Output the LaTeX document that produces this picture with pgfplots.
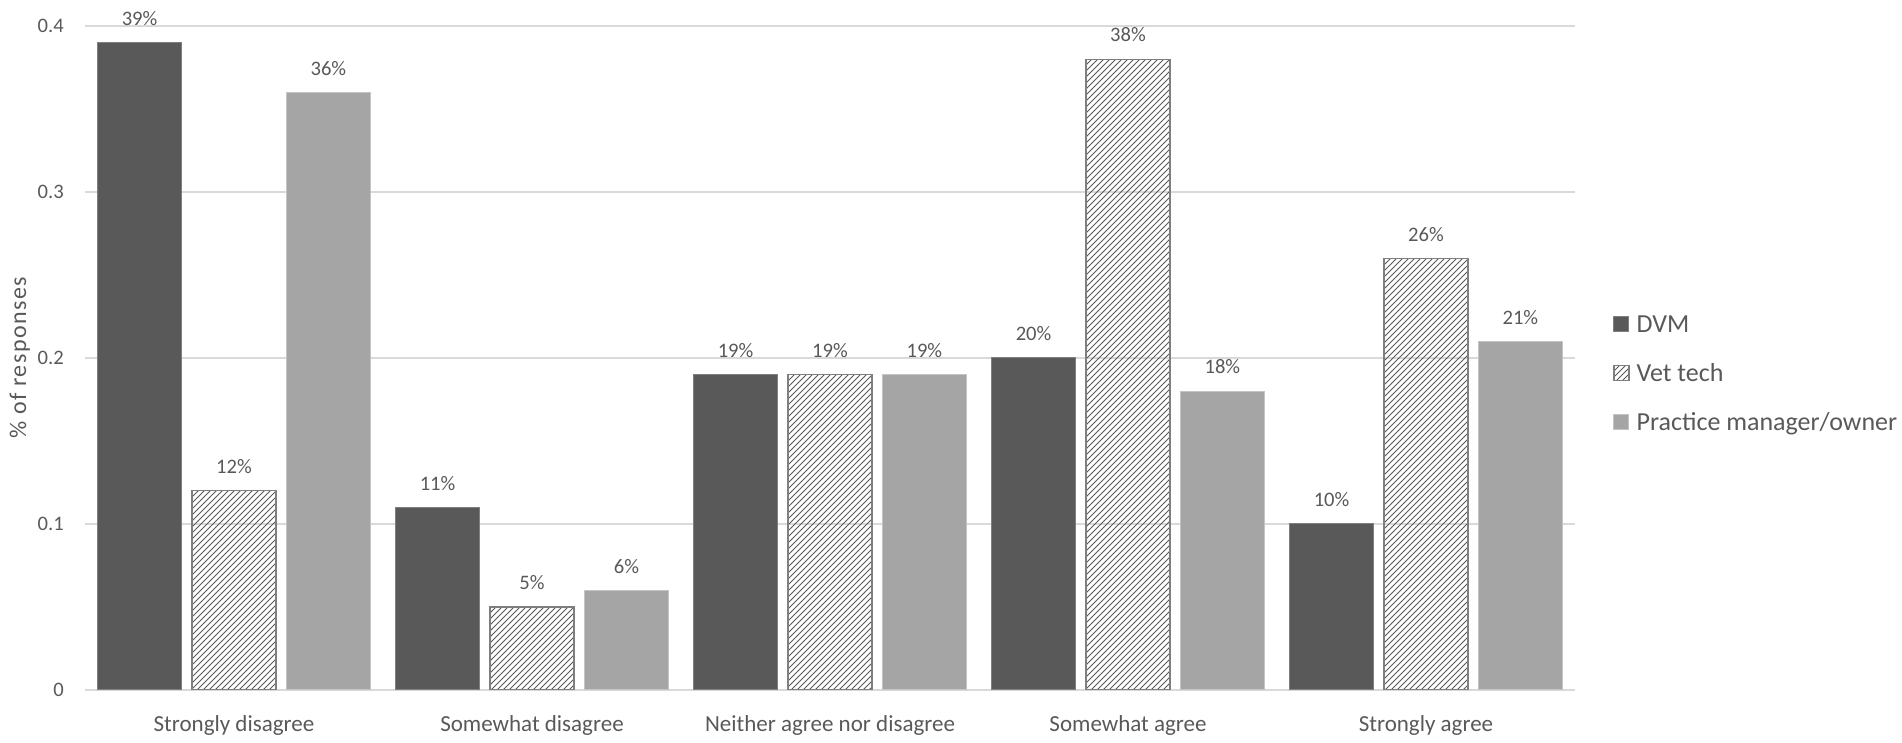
\documentclass[border=0pt]{standalone}
\usepackage{fontspec}
\setmainfont{Carlito}
\newfontfamily\ylabfont[LetterSpace=6]{Carlito}
\usepackage{pgfplots}
\usepackage{pgfplotstable}
\pgfplotsset{compat=1.18}
\usetikzlibrary{patterns}
\definecolor{dvm}{HTML}{595959}
\definecolor{pmc}{HTML}{A5A5A5}
\definecolor{txt}{HTML}{595959}
\definecolor{gridc}{HTML}{D9D9D9}
\definecolor{edge}{HTML}{7F7F7F}

\pgfplotstableread{
x dvm vt pm
0 0.39 0.12 0.36
1 0.11 0.05 0.06
2 0.19 0.19 0.19
3 0.20 0.38 0.18
4 0.10 0.26 0.21
}\data

\begin{document}
\begin{tikzpicture}
\begin{axis}[
  scale only axis, width=745pt, height=332pt,
  ybar=5.2pt, bar width=42pt,
  xmin=-0.5, xmax=4.5, ymin=0, ymax=0.4,
  xtick={0,1,2,3,4},
  xticklabels={Strongly disagree,Somewhat disagree,Neither agree nor disagree,Somewhat agree,Strongly agree},
  ytick={0,0.1,0.2,0.3,0.4},
  yticklabels={0,0.1,0.2,0.3,0.4},
  major tick length=0pt,
  axis line style={draw=none},
  ymajorgrids, grid style={draw=gridc, line width=0.7pt},
  tick label style={text=txt},
  yticklabel style={font=\fontsize{10.3}{12}\selectfont, anchor=east, inner sep=0pt, xshift=-10.4pt},
  xticklabel style={font=\fontsize{11.5}{13}\selectfont, anchor=base, inner sep=0pt, yshift=-20.8pt},
  ylabel={\% of responses},
  ylabel style={font=\ylabfont\fontsize{12}{14}\selectfont, text=txt, at={(axis description cs:-0.0396,0.5)}, anchor=base},
  legend style={draw=none, fill=none, inner sep=0pt, at={(axis description cs:1.0255,0.4774)}, anchor=west,
    font=\fontsize{13}{15}\selectfont, text=txt, row sep=16.1pt, column sep=3.5pt,
    nodes={inner sep=0pt, text height=8.4pt, text depth=0pt}},
  legend cell align=left,
  legend image code/.code={\draw[#1] (0pt,-3.75pt) rectangle (7.5pt,3.75pt);},
  nodes near coords={\pgfmathprintnumber[fixed,precision=0]{\pgfplotspointmeta}\%},
  point meta={y*100},
  every node near coord/.append style={font=\fontsize{10.3}{12}\selectfont, text=txt, anchor=base, yshift=8.6pt, inner sep=0pt},
  /pgf/number format/assume math mode=true,
]
\addplot[fill=dvm, draw=edge, line width=0.5pt] table[x=x,y=dvm] {\data};
\addlegendentry{DVM}
\addplot[pattern=north east lines, pattern color=dvm, draw=edge, line width=0.6pt] table[x=x,y=vt] {\data};
\addlegendentry{Vet tech}
\addplot[fill=pmc, draw=gridc!60!pmc, line width=0.5pt] table[x=x,y=pm] {\data};
\addlegendentry{Practice manager/owner}
\end{axis}
\pgfresetboundingbox
\path[use as bounding box] (-42.5pt,-26.5pt) rectangle (908.5pt,345pt);
\end{tikzpicture}
\end{document}
